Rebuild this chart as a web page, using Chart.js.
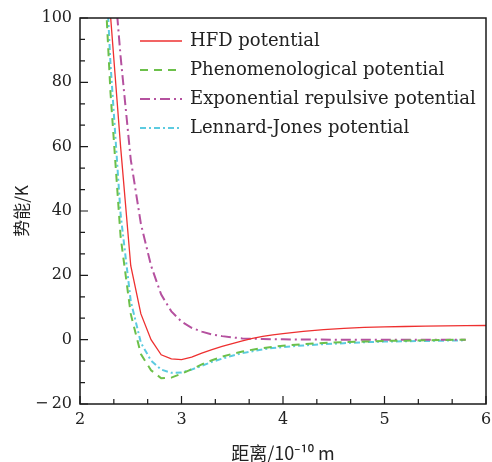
<!DOCTYPE html>
<html>
<head>
<meta charset="utf-8">
<script src="https://cdn.jsdelivr.net/npm/chart.js@4.4.1/dist/chart.umd.min.js"></script>
<style>
  html, body { margin: 0; padding: 0; background: #fff; }
  #wrap { width: 492px; height: 462px; }
</style>
</head>
<body>
<div id="wrap"><canvas id="potentialChart" width="492" height="462"></canvas></div>
<script>
// interatomic distance (1e-10 m) and potential energy (K) for each model
const hfdR = [2.3, 2.4, 2.5, 2.6, 2.7, 2.8, 2.9, 3.0, 3.1, 3.2, 3.3, 3.4, 3.5, 3.6, 3.7, 3.8, 3.9, 4.0, 4.2, 4.4, 4.6, 4.8, 5.0, 5.2, 5.4, 5.6, 5.8, 6.0];
const hfdV = [101, 60, 23, 8, 0, -4.7, -6, -6.2, -5.4, -4.2, -3.1, -2.1, -1.2, -0.4, 0.4, 1.0, 1.5, 1.9, 2.6, 3.1, 3.5, 3.8, 4.0, 4.1, 4.2, 4.3, 4.35, 4.4];

const phenR = [2.25, 2.3, 2.4, 2.5, 2.6, 2.7, 2.8, 2.9, 3.0, 3.1, 3.2, 3.3, 3.4, 3.5, 3.6, 3.7, 3.8, 3.9, 4.0, 4.2, 4.4, 4.6, 4.8, 5.0, 5.2, 5.4, 5.6, 5.8];
const phenV = [108, 77, 32, 8, -4.5, -9.5, -12, -11.8, -10.6, -9.2, -7.7, -6.4, -5.3, -4.4, -3.7, -3.1, -2.6, -2.2, -1.9, -1.4, -1.0, -0.8, -0.6, -0.4, -0.3, -0.2, -0.1, 0];

const expR = [2.35, 2.4, 2.5, 2.6, 2.7, 2.8, 2.9, 3.0, 3.1, 3.2, 3.3, 3.4, 3.5, 3.6, 3.8, 4.0, 4.5, 5.0, 5.5, 5.8];
const expV = [107, 88, 56, 36, 23, 14, 8.8, 5.6, 3.7, 2.5, 1.6, 1.1, 0.7, 0.4, 0.2, 0.1, 0, 0, 0, 0];

const ljR = [2.25, 2.3, 2.4, 2.5, 2.6, 2.7, 2.8, 2.9, 3.0, 3.1, 3.2, 3.3, 3.4, 3.5, 3.6, 3.7, 3.8, 3.9, 4.0, 4.2, 4.4, 4.6, 4.8, 5.0, 5.2, 5.4, 5.6, 5.8];
const ljV = [118, 86, 39, 12, -1, -6.5, -9.3, -10.3, -10.2, -9.3, -8.1, -6.9, -5.9, -5.0, -4.2, -3.6, -3.0, -2.6, -2.3, -1.8, -1.4, -1.1, -0.8, -0.6, -0.5, -0.4, -0.3, -0.2];

const seriesNames = ['HFD potential', 'Phenomenological potential', 'Exponential repulsive potential', 'Lennard-Jones potential'];

const xMin = 2, xMax = 6;
const yMin = -20, yMax = 100;

const serif = "'DejaVu Serif', 'Liberation Serif', serif";
const cjk = "'Noto Sans CJK SC', 'Noto Sans', sans-serif";

function pts(r, v) {
  return r.map((x, i) => ({ x, y: v[i] }));
}

// box around the plot plus inward major/minor ticks on bottom and left
const frameTicks = {
  id: 'frameTicks',
  afterDraw(chart) {
    const { ctx, chartArea: a, scales: { x, y } } = chart;
    ctx.save();
    ctx.strokeStyle = '#1a1a1a';
    ctx.lineWidth = 1.5;
    ctx.strokeRect(a.left, a.top, a.right - a.left, a.bottom - a.top);
    ctx.lineWidth = 1.2;
    ctx.beginPath();
    for (let i = 0; i <= (xMax - xMin) * 3; i++) {
      const px = x.getPixelForValue(xMin + i / 3);
      const len = i % 3 === 0 ? 8 : 5;
      ctx.moveTo(px, a.bottom);
      ctx.lineTo(px, a.bottom - len);
    }
    for (let i = 0; i <= (yMax - yMin) / 20 * 3; i++) {
      const py = y.getPixelForValue(yMin + i * 20 / 3);
      const len = i % 3 === 0 ? 8 : 5;
      ctx.moveTo(a.left, py);
      ctx.lineTo(a.left + len, py);
    }
    ctx.stroke();
    ctx.restore();
  }
};

// legend drawn inside the plot area, one column
const innerLegend = {
  id: 'innerLegend',
  afterDatasetsDraw(chart) {
    const { ctx, chartArea: a } = chart;
    const x0 = a.left + 60, y0 = a.top + 23, rowH = 29, lineLen = 42;
    ctx.save();
    ctx.font = '18px ' + serif;
    ctx.textBaseline = 'middle';
    ctx.fillStyle = '#222';
    chart.data.datasets.forEach((ds, i) => {
      const yy = y0 + i * rowH;
      ctx.strokeStyle = ds.borderColor;
      ctx.lineWidth = ds.borderWidth;
      ctx.setLineDash(ds.borderDash || []);
      ctx.beginPath();
      ctx.moveTo(x0, yy);
      ctx.lineTo(x0 + lineLen, yy);
      ctx.stroke();
      ctx.setLineDash([]);
      ctx.fillText(ds.label, x0 + lineLen + 8, yy);
    });
    ctx.restore();
  }
};

const ctx = document.getElementById('potentialChart').getContext('2d');
new Chart(ctx, {
  type: 'line',
  data: {
    datasets: [
      { label: seriesNames[0], data: pts(hfdR, hfdV), borderColor: '#ee3030', borderWidth: 1.3, borderDash: [] },
      { label: seriesNames[1], data: pts(phenR, phenV), borderColor: '#6cc04a', borderWidth: 2, borderDash: [8, 6] },
      { label: seriesNames[2], data: pts(expR, expV), borderColor: '#b5519f', borderWidth: 2, borderDash: [10, 4, 2, 4] },
      { label: seriesNames[3], data: pts(ljR, ljV), borderColor: '#5ccbe0', borderWidth: 2, borderDash: [6, 3, 2, 3] }
    ].map(ds => Object.assign(ds, { pointRadius: 0, fill: false, tension: 0 }))
  },
  options: {
    responsive: false,
    animation: false,
    layout: { padding: { top: 18, right: 0, left: 0, bottom: 0 } },
    plugins: { legend: { display: false }, tooltip: { enabled: false } },
    scales: {
      x: {
        type: 'linear',
        min: xMin, max: xMax,
        afterFit(scale) {
          scale.height = 58;
          scale.paddingRight = 6;
        },
        grid: { display: false, drawTicks: false },
        border: { display: false },
        ticks: { stepSize: 1, padding: 6, color: '#222', font: { family: serif, size: 16 } },
        title: { display: true, text: '距离/10⁻¹⁰ m', color: '#222', font: { family: cjk, size: 18, lineHeight: 1 }, padding: 0 }
      },
      y: {
        min: yMin, max: yMax,
        afterFit(scale) { scale.width = 80; },
        grid: { display: false, drawTicks: false },
        border: { display: false },
        ticks: {
          stepSize: 20, padding: 8, color: '#222', font: { family: serif, size: 16 },
          callback: v => (v < 0 ? '\u2212\u2009' + Math.abs(v) : String(v))
        },
        title: { display: true, text: '势能/K', color: '#222', font: { family: cjk, size: 17, lineHeight: 1 }, padding: { top: 13, bottom: 0 } }
      }
    }
  },
  plugins: [frameTicks, innerLegend]
});
</script>
</body>
</html>
